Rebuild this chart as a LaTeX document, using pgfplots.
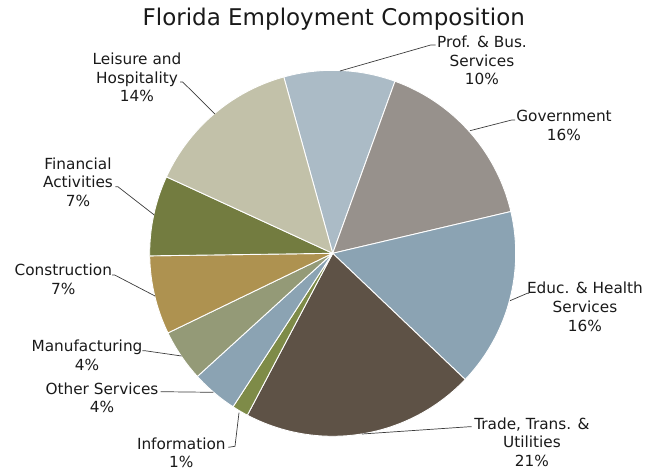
\documentclass[border=0pt]{standalone}
\usepackage{pgfplots}
\pgfplotsset{compat=1.18}
\usepackage{fontspec}
\setmainfont{DejaVu Sans}

\definecolor{cProf}{HTML}{ABBBC6}
\definecolor{cGov}{HTML}{97918C}
\definecolor{cEduc}{HTML}{8BA3B3}
\definecolor{cTrade}{HTML}{5E5246}
\definecolor{cInfo}{HTML}{7E8B48}
\definecolor{cOther}{HTML}{8BA3B3}
\definecolor{cMfg}{HTML}{949A77}
\definecolor{cConstr}{HTML}{AE9250}
\definecolor{cFin}{HTML}{737C40}
\definecolor{cLeis}{HTML}{C2C1A9}
\definecolor{txt}{HTML}{1A1A1A}

\begin{document}
\begin{tikzpicture}
\useasboundingbox (-332.7pt,-217.7pt) rectangle (326.3pt,253.3pt);
\begin{axis}[
    at={(0,0)}, anchor=origin,
    scale only axis, width=366pt, height=366pt,
    xmin=-1, xmax=1, ymin=-1, ymax=1,
    hide axis, clip=false,
    slice/.style={draw=white, line width=0.9pt, line join=round, data cs=polar, samples=40},
]
% slices: start and end angle (deg, ccw from east), share in comment
\addplot[slice, fill=cProf,   domain=70.1:105.5]   ({x},{1}) -- (axis cs:0,0) -- cycle; % 9.8
\addplot[slice, fill=cGov,    domain=13.2:70.1]    ({x},{1}) -- (axis cs:0,0) -- cycle; % 15.8
\addplot[slice, fill=cEduc,   domain=-43.6:13.2]   ({x},{1}) -- (axis cs:0,0) -- cycle; % 15.8
\addplot[slice, fill=cTrade,  domain=-117.8:-43.6] ({x},{1}) -- (axis cs:0,0) -- cycle; % 20.6
\addplot[slice, fill=cInfo,   domain=-123.0:-117.8]({x},{1}) -- (axis cs:0,0) -- cycle; % 1.4
\addplot[slice, fill=cOther,  domain=-137.7:-123.0]({x},{1}) -- (axis cs:0,0) -- cycle; % 4.1
\addplot[slice, fill=cMfg,    domain=-154.2:-137.7]({x},{1}) -- (axis cs:0,0) -- cycle; % 4.6
\addplot[slice, fill=cConstr, domain=-179.2:-154.2]({x},{1}) -- (axis cs:0,0) -- cycle; % 6.9
\addplot[slice, fill=cFin,    domain=-204.7:-179.2]({x},{1}) -- (axis cs:0,0) -- cycle; % 7.1
\addplot[slice, fill=cLeis,   domain=-254.5:-204.7]({x},{1}) -- (axis cs:0,0) -- cycle; % 13.8
\end{axis}

% title
\node[txt, font=\fontsize{23}{27}\selectfont] at (1.1pt,234.3pt) {Florida Employment Composition};

% leader lines
\begin{scope}[draw=txt!85, line width=0.7pt]
\draw (7.3pt,182.3pt) -- (98pt,208.3pt) -- (103pt,208.3pt);
\draw (137.3pt,122.6pt) -- (179pt,133.3pt) -- (182.3pt,133.3pt);
\draw (177.3pt,-47.4pt) -- (194.6pt,-40pt) -- (196.3pt,-40pt);
\draw (29.3pt,-180.7pt) -- (137pt,-173.4pt) -- (139pt,-173.4pt);
\draw (-93.7pt,-159.4pt) -- (-97.7pt,-193pt) -- (-104.4pt,-194pt);
\draw (-119.4pt,-139pt) -- (-172pt,-138.4pt);
\draw (-151pt,-102.7pt) -- (-188pt,-97.4pt) -- (-190.4pt,-97.4pt);
\draw (-177.7pt,-42.7pt) -- (-218pt,-21.7pt) -- (-220.5pt,-21.7pt);
\draw (-178.4pt,38.3pt) -- (-214.7pt,66.5pt) -- (-217.2pt,66.5pt);
\draw (-117.7pt,139.3pt) -- (-150pt,171.3pt) -- (-152.5pt,171.3pt);
\end{scope}

% labels
\begin{scope}[every node/.style={txt, align=center, font=\fontsize{15.3}{18.6}\selectfont}]
\node at (149.3pt,192.8pt) {Prof. \& Bus.\\Services\\10\%};
\node at (231.3pt,128.1pt) {Government\\16\%};
\node at (252.3pt,-53.4pt) {Educ. \& Health\\Services\\16\%};
\node at (199.3pt,-188.9pt) {Trade, Trans. \&\\Utilities\\21\%};
\node at (-151.4pt,-199.6pt) {Information\\1\%};
\node at (-230.7pt,-144.5pt) {Other Services\\4\%};
\node at (-245.7pt,-101.7pt) {Manufacturing\\4\%};
\node at (-269.4pt,-25.9pt) {Construction\\7\%};
\node at (-254.7pt,71.3pt) {Financial\\Activities\\7\%};
\node at (-195.7pt,176pt) {Leisure and\\Hospitality\\14\%};
\end{scope}
\end{tikzpicture}
\end{document}
